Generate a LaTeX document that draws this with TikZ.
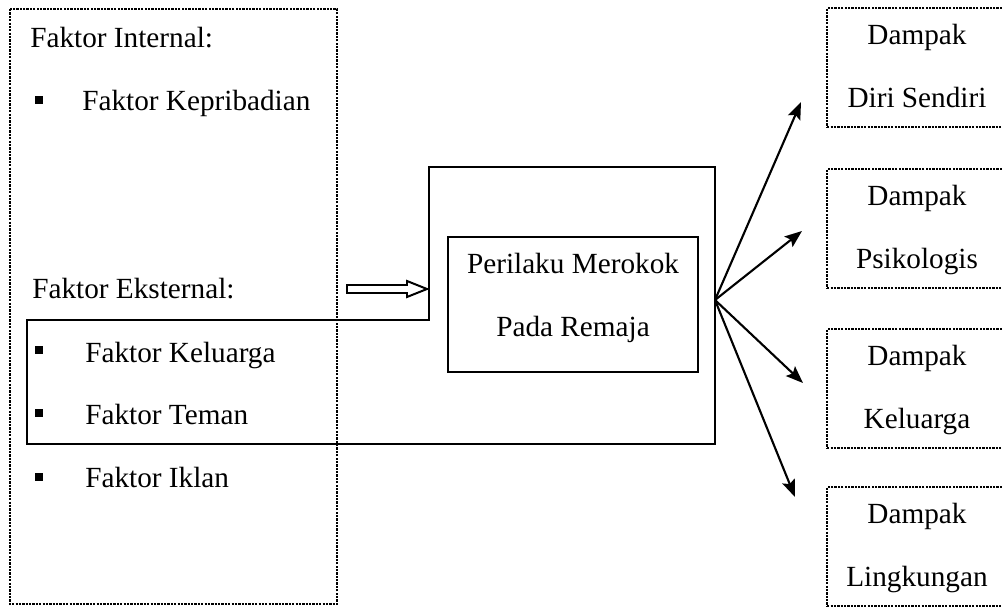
\documentclass[tikz,border=0pt]{standalone}
\usepackage{fontspec}
\setmainfont{Liberation Serif}
\usetikzlibrary{arrows.meta, positioning}

\tikzset{
    dotbox/.style={draw, line width=1.6pt, dash pattern=on 1.6pt off 0.8pt},
    solidbox/.style={draw, line width=1.8pt},
    teks/.style={inner sep=0pt, font=\fontsize{20.8}{25}\selectfont},
    teksL/.style={teks, anchor=base west},
    teksC/.style={teks, anchor=base},
    kotak/.style={fill, inner sep=0pt, minimum size=0.22cm},
    panah/.style={line width=1.5pt, -{Stealth[length=4.3mm, width=3.3mm, inset=0.8mm]}}
}

\begin{document}
\begin{tikzpicture}[x=0.25cm, y=-0.25cm]
\useasboundingbox (0,0) rectangle (100.2,60.7);

% ---- FAKTOR (kiri) ----
\draw[dotbox] (1,0.9) rectangle (33.7,60.4);
\node[teksL] (internal) at (3,4.7) {Faktor Internal:};
\node[teksL] (kepribadian) at (8.2,11) {Faktor Kepribadian};
\node[teksL] (eksternal) at (3.2,29.8) {Faktor Eksternal:};
\node[teksL] (keluarga) at (8.5,36.2) {Faktor Keluarga};
\node[teksL] (teman) at (8.5,42.4) {Faktor Teman};
\node[teksL] (iklan) at (8.5,48.7) {Faktor Iklan};
% Bullet
\foreach \by [count=\i] in {10, 35, 41.3, 47.7}
    \node[kotak] (bullet\i) at (3.9,\by) {};

% ---- PERILAKU MEROKOK (tengah) ----
\draw[solidbox] (2.7,32) -- (42.9,32) -- (42.9,16.7) -- (71.5,16.7)
    -- (71.5,44.4) -- (2.7,44.4) -- cycle;
\node[solidbox, minimum width=6.25cm, minimum height=3.375cm] (perilaku) at (57.3,30.45) {};
\node[teksC] (perilaku-a) at (57.3,27.3) {Perilaku Merokok};
\node[teksC] (perilaku-b) at (57.3,33.6) {Pada Remaja};
% Panah berongga
\draw[line width=1.4pt] (34.7,28.5) -- (40.7,28.5) -- (40.7,28.1) -- (42.7,28.9)
    -- (40.7,29.7) -- (40.7,29.3) -- (34.7,29.3) -- cycle;

% ---- DAMPAK (kanan) ----
\foreach \name/\ty/\second in {diri/0.7/Diri Sendiri, psiko/16.8/Psikologis,
        kel/32.8/Keluarga, ling/48.6/Lingkungan}{
    \node[dotbox, minimum width=4.45cm, minimum height=2.98cm, anchor=north west] (\name) at (82.6,\ty) {};
    \node[teksC] (\name-a) at (91.7,\ty+3.7) {Dampak};
    \node[teksC] (\name-b) at (91.7,\ty+10) {\second};
}

% Panah ke dampak
\coordinate (fan) at (71.5,30);
\coordinate (diri-in) at (80.1,10.2);
\coordinate (psiko-in) at (80.2,23.1);
\coordinate (kel-in) at (80.3,38.3);
\coordinate (ling-in) at (79.5,49.7);
\foreach \name in {diri, psiko, kel, ling}
    \draw[panah] (fan) -- (\name-in);

\end{tikzpicture}
\end{document}
